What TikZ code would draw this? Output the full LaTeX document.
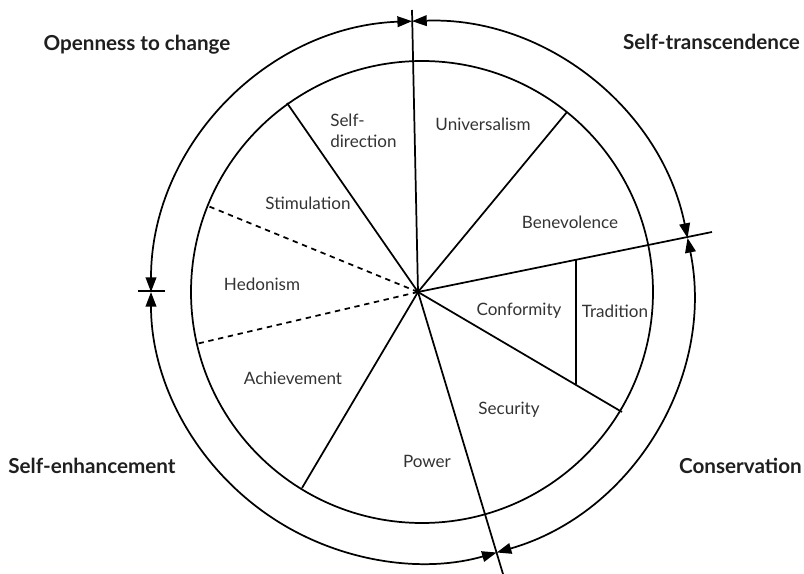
\documentclass[tikz,border=0pt]{standalone}
\usepackage{fontspec}
\setmainfont{Lato}
\usetikzlibrary{arrows.meta,calc}
\begin{document}
\begin{tikzpicture}[x=0.75pt,y=0.75pt,
  sep/.style={line width=1.3pt},
  dsep/.style={line width=1.3pt, dash pattern=on 4pt off 3.5pt},
  lab/.style={font=\fontsize{12.8}{15.5}\selectfont, text=black!80, inner sep=0pt},
  head/.style={font=\fontsize{15.5}{18}\selectfont\bfseries, text=black!88, inner sep=0pt},
  dual/.style={line width=1.3pt, {Triangle[length=11pt,width=8pt]}-{Triangle[length=11pt,width=8pt]}}]
\useasboundingbox (0,0) rectangle (804,-574);
\coordinate (O) at (422,-292);
\coordinate (C) at (418,-292);
% inner circle
\draw[sep] (O) circle[radius=231];
% tick points on the outer circle
\coordinate (tT) at ($(O)+(92.1:271)$);
\coordinate (tL) at ($(O)+(180:271)$);
\coordinate (tB) at ($(O)+(-74:271)$);
\coordinate (tR) at ($(O)+(11.5:271)$);
% outer arcs with arrows
\draw[dual] (tT) arc[start angle=92.1, end angle=180, radius=271];
\draw[dual] (tL) arc[start angle=180, end angle=286, radius=271];
\draw[dual] (tB) arc[start angle=286, end angle=371.5, radius=271];
\draw[dual] (tR) arc[start angle=11.5, end angle=92.1, radius=271];
% left tick
\coordinate (tl1) at (138,-291);
\coordinate (tl2) at (165,-291);
\draw[sep] (tl1) -- (tl2);
% long separators
\coordinate (pTop) at (412,-10);
\coordinate (pRight) at (712,-232);
\coordinate (pBot) at (503,-574);
\draw[sep] (C) -- (pTop);
\draw[sep] (C) -- (pRight);
\draw[sep] (C) -- (pBot);
% inner separators
\coordinate (pSD) at (287,-103);
\coordinate (pUB) at (567,-112);
\coordinate (pCS) at (622,-412);
\coordinate (pPA) at (302,-488);
\coordinate (pHS) at (208,-206);
\coordinate (pAH) at (196,-344);
\draw[sep] (C) -- (pSD);
\draw[sep] (C) -- (pUB);
\draw[sep] (C) -- (pCS);
\draw[sep] (C) -- (pPA);
\draw[dsep] (C) -- (pHS);
\draw[dsep] (C) -- (pAH);
\coordinate (v1) at (576,-260);
\coordinate (v2) at (576,-384);
\draw[sep] (v1) -- (v2);
% labels
\node[lab, align=left, anchor=west] (sd) at (330,-131) {Self-\\direction};
\node[lab] (un) at (483,-124) {Universalism};
\node[lab] (be) at (570,-222) {Benevolence};
\node[lab] (tr) at (615,-311) {Tradition};
\node[lab] (co) at (519,-311) {Conformity};
\node[lab] (se) at (509,-410) {Security};
\node[lab] (po) at (427,-461) {Power};
\node[lab] (ac) at (293,-378) {Achievement};
\node[lab] (he) at (262,-284) {Hedonism};
\node[lab] (st) at (308,-203) {Stimulation};
% headings
\node[head] (h1) at (137,-45) {Openness to change};
\node[head, anchor=east] (h2) at (800,-42) {Self-transcendence};
\node[head, anchor=west] (h3) at (8,-466) {Self-enhancement};
\node[head, anchor=east] (h4) at (802,-466) {Conservation};
\end{tikzpicture}
\end{document}
